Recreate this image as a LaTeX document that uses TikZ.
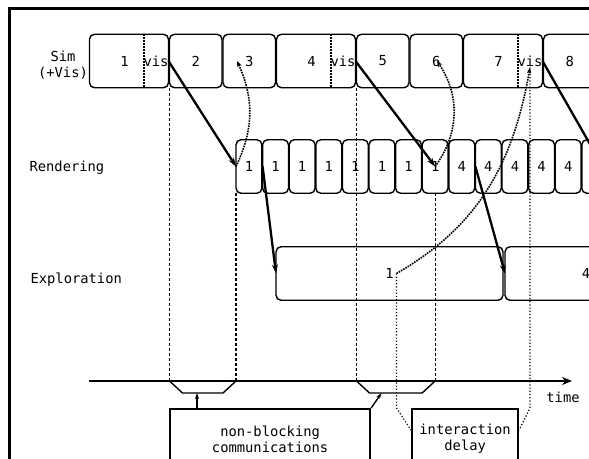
\documentclass[tikz,border=0pt]{standalone}
\usepackage{fontspec}
\setmonofont{DejaVu Sans Mono}
\usetikzlibrary{arrows.meta, positioning, calc}

\begin{document}
\begin{tikzpicture}[x=1pt, y=1pt, font=\ttfamily\fontsize{13.8}{16}\selectfont,
  cell/.style={draw, line width=1.4pt, rounded corners=5pt, inner sep=0pt, outer sep=0pt, minimum height=53.5pt},
  scell/.style={cell, minimum width=52.5pt},
  lcell/.style={cell, minimum width=79pt},
  rcell/.style={cell, minimum width=25.9pt},
  visline/.style={line width=2pt, densely dotted},
  arr/.style={-{Stealth[length=9pt, width=6pt]}, line width=2.3pt},
  back/.style={-{Stealth[length=6pt, width=4.5pt]}, line width=1.6pt, densely dotted},
  sync/.style={line width=1.2pt, dash pattern=on 3pt off 2pt},
  wait/.style={line width=1.2pt, dotted},
  trap/.style={line width=1.4pt},
  tag/.style={-{Stealth[length=6pt, width=4pt]}, line width=1.4pt},
  note/.style={draw, line width=2.2pt, minimum height=60pt, inner sep=0pt, align=center, anchor=north west}
]
\useasboundingbox (0,0) rectangle (589,-458);
\clip (0,0) rectangle (589,-458);
\draw[line width=3pt] (9.5,-470) -- (9.5,-8.5) -- (600,-8.5);
% Row labels
\node[align=center] (simlbl) at (63,-65) {Sim\\(+Vis)};
\node[anchor=west] (renlbl) at (26,-168) {Rendering};
\node[anchor=west] (explbl) at (27,-280) {Exploration};
% Simulation steps
\node[lcell, anchor=west] (sim1) at (89.5,-61) {};
\node[scell, right=1pt of sim1] (sim2) {2};
\node[scell, right=1pt of sim2] (sim3) {3};
\node[lcell, right=1pt of sim3] (sim4) {};
\node[scell, right=1pt of sim4] (sim5) {5};
\node[scell, right=1pt of sim5] (sim6) {6};
\node[lcell, right=1pt of sim6] (sim7) {};
\node[scell, right=1pt of sim7] (sim8) {8};
\node at ([xshift=35pt]sim1.west) {1};
\node at ([xshift=35pt]sim4.west) {4};
\node at ([xshift=35pt]sim7.west) {7};
\node[inner sep=1pt] (vis1) at ([xshift=-12.5pt]sim1.east) {vis};
\node[inner sep=1pt] (vis4) at ([xshift=-12.5pt]sim4.east) {vis};
\node[inner sep=1pt] (vis7) at ([xshift=-12.5pt]sim7.east) {vis};
\draw[visline] ([xshift=-25pt]sim1.north east) -- ([xshift=-25pt]sim1.south east);
\draw[visline] ([xshift=-25pt]sim4.north east) -- ([xshift=-25pt]sim4.south east);
\draw[visline] ([xshift=-25pt]sim7.north east) -- ([xshift=-25pt]sim7.south east);
% Rendering frames
\node[rcell, anchor=west] (ren1) at (236,-166.5) {1};
\node[rcell, right=0.7pt of ren1] (ren2) {1};
\node[rcell, right=0.7pt of ren2] (ren3) {1};
\node[rcell, right=0.7pt of ren3] (ren4) {1};
\node[rcell, right=0.7pt of ren4] (ren5) {1};
\node[rcell, right=0.7pt of ren5] (ren6) {1};
\node[rcell, right=0.7pt of ren6] (ren7) {1};
\node[rcell, right=0.7pt of ren7] (ren8) {1};
\node[rcell, right=0.7pt of ren8] (ren9) {4};
\node[rcell, right=0.7pt of ren9] (ren10) {4};
\node[rcell, right=0.7pt of ren10] (ren11) {4};
\node[rcell, right=0.7pt of ren11] (ren12) {4};
\node[rcell, right=0.7pt of ren12] (ren13) {4};
\node[rcell, right=0.7pt of ren13] (ren14) {};
% Exploration
\node[cell, minimum width=227pt, anchor=west] (exp1) at (276,-273.5) {1};
\node[cell, minimum width=162pt, right=2pt of exp1] (exp2) {4};
\coordinate (pick) at ([xshift=7pt]exp1.center);
% Time axis
\coordinate (t0) at (89,-381);
\coordinate (t1) at (572,-381);
\draw[-{Stealth[length=10pt, width=8pt]}, line width=2.5pt] (t0) -- (t1);
\node (timelbl) at (563,-397) {time};
% Boxes below the axis
\node[note, minimum width=200pt] (nbc) at (169,-408) {non-blocking\\communications};
\node[note, minimum width=106pt] (idl) at (411,-408) {interaction\\delay};
% Synchronisation lines
\draw[sync] (sim2.south west) -- (sim2.south west |- t0);
\draw[sync] (ren1.south west) -- (ren1.south west |- t0);
\draw[sync] (sim5.south west) -- (sim5.south west |- t0);
\draw[sync] (ren8.south) -- (ren8.south |- t0);
\draw[trap] (sim2.south west |- t0) -- ++(13,-12) -- ($(ren1.south west |- t0)+(-13,-12)$) -- (ren1.south west |- t0);
\draw[trap] (sim5.south west |- t0) -- ++(13,-12) -- ($(ren8.south |- t0)+(-13,-12)$) -- (ren8.south |- t0);
\coordinate (tb1) at ($(sim2.south west |- t0)+(27.5,-12)$);
\coordinate (tb2) at ($(sim5.south west |- t0)+(25,-12)$);
\draw[tag] (nbc.north west -| tb1) -- (tb1);
\draw[tag] (nbc.north east) -- (tb2);
% Interaction delay
\draw[wait] (pick) -- (pick |- idl.north) -- ([yshift=-22pt]idl.north west);
\draw[wait] (vis7.south) -- (vis7.south |- idl.north) -- ([yshift=-22pt]idl.north east);
% Data flow
\draw[arr] (sim1.east) -- (ren1.west);
\draw[arr] (ren2.west) -- (exp1.west);
\draw[arr] (sim4.east) -- (ren8.center);
\draw[arr] (ren10.west) -- (exp2.west);
\draw[arr] (sim7.east) -- ([xshift=8pt]ren14.center);
% Feedback
\draw[back] (ren1.west) to[bend right=25] ([xshift=14pt]sim3.west);
\draw[back] (ren8.center) to[bend right=35] ([xshift=27pt]sim6.west);
\draw[back] (pick) to[out=30, in=-100] (vis7.south);
\end{tikzpicture}
\end{document}
